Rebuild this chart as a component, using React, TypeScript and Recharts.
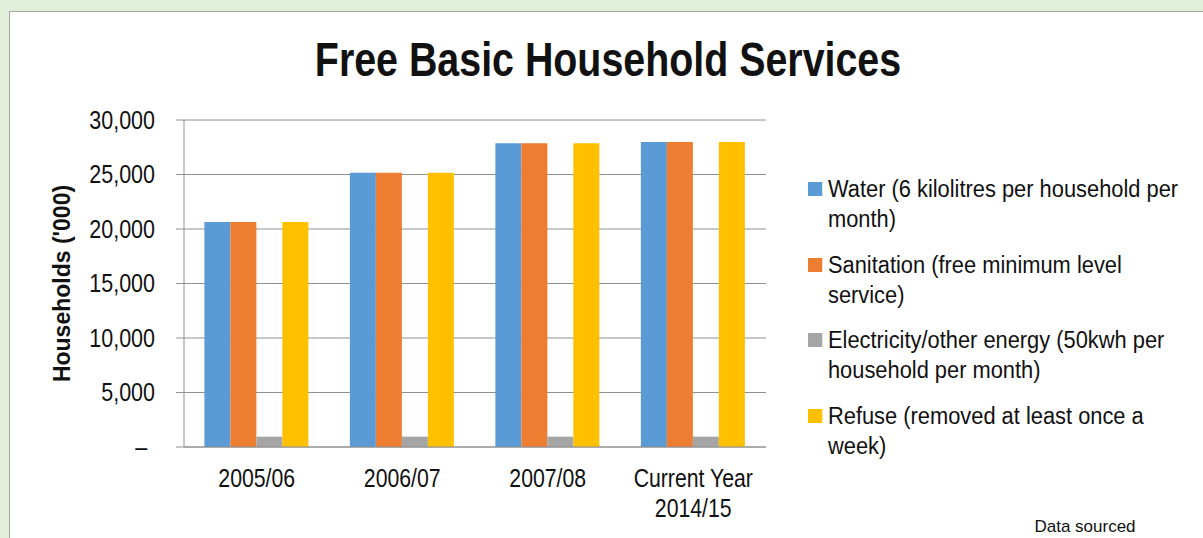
import React from 'react';
import { BarChart, Bar, XAxis, YAxis, CartesianGrid, Legend, Label } from 'recharts';

const categories = ['2005/06', '2006/07', '2007/08', 'Current Year\n2014/15'];
const water = [20650, 25170, 27860, 27990];
const sanitation = [20650, 25170, 27860, 27990];
const electricity = [950, 950, 950, 950];
const refuse = [20650, 25170, 27860, 27990];
const yTicks = [0, 5000, 10000, 15000, 20000, 25000, 30000];

const seriesKeys = ['water', 'sanitation', 'electricity', 'refuse'];
const seriesNames: Record<string, string> = {
  water: 'Water (6 kilolitres per household per\nmonth)',
  sanitation: 'Sanitation (free minimum level\nservice)',
  electricity: 'Electricity/other energy (50kwh per\nhousehold per month)',
  refuse: 'Refuse (removed at least once a\nweek)',
};
const seriesColors: Record<string, string> = {
  water: '#5b9bd5',
  sanitation: '#ed7d31',
  electricity: '#a5a5a5',
  refuse: '#ffc000',
};

const data = categories.map((name, i) => ({
  name,
  water: water[i],
  sanitation: sanitation[i],
  electricity: electricity[i],
  refuse: refuse[i],
}));

const FONT = "'Liberation Sans', Arial, sans-serif";
const GRID = '#909090';

const XTick = ({ x, y, payload }: any) => {
  const lines = String(payload.value).split('\n');
  return (
    <g transform={`translate(${x},${y}) scale(0.85,1)`}>
      <text x={0} y={0} textAnchor="middle" fill="#111" fontSize={25} fontFamily={FONT}>
        {lines.map((l, i) => (
          <tspan key={i} x={0} dy={i === 0 ? 32 : 30}>{l}</tspan>
        ))}
      </text>
    </g>
  );
};

// accounting-style labels: zero shows as a dash, padded in from the right
const YTick = ({ x, y, payload }: any) => {
  const v = payload.value as number;
  return (
    <g transform={`translate(${x},${y}) scale(0.86,1)`}>
      <text x={v === 0 ? -9 : 0} y={0} dy="0.355em" textAnchor="end" fill="#111" fontSize={25} fontFamily={FONT}>
        {v === 0 ? '–' : v.toLocaleString('en-US')}
      </text>
    </g>
  );
};

const LegendList = ({ payload }: any) => {
  const items = [...(payload || [])].sort(
    (a: any, b: any) => seriesKeys.indexOf(a.dataKey) - seriesKeys.indexOf(b.dataKey)
  );
  return (
    <div style={{ fontFamily: FONT, fontSize: 23, color: '#111', lineHeight: '30px', transform: 'scaleX(0.95)', transformOrigin: '0 0' }}>
      {items.map((p: any) => (
        <div key={p.value} style={{ display: 'flex', alignItems: 'flex-start', marginBottom: 15.5 }}>
          <span style={{ width: 15, height: 14, background: p.color, marginTop: 8, marginRight: 6, flex: 'none' }} />
          <span style={{ whiteSpace: 'pre-line' }}>{p.value}</span>
        </div>
      ))}
    </div>
  );
};

export default function App() {
  return (
    <div style={{ position: 'absolute', left: 0, top: 0, width: 1203, height: 538, background: '#e2efda', overflow: 'hidden' }}>
      <div style={{ position: 'absolute', left: 9, top: 11, width: 1210, height: 540, background: '#fff', border: '1px solid #a6a6a6' }} />
      <div
        style={{
          position: 'absolute', left: 0, top: 32, width: 1216, textAlign: 'center',
          fontFamily: FONT, fontWeight: 'bold', fontSize: 48, color: '#111',
          transform: 'scaleX(0.82)', transformOrigin: '608px 0',
        }}
      >
        Free Basic Household Services
      </div>
      <div style={{ position: 'absolute', left: 0, top: 0 }}>
        <BarChart
          width={1203}
          height={538}
          data={data}
          margin={{ top: 120, right: 437, bottom: 61, left: 0 }}
          barCategoryGap="14%"
          barGap={0}
        >
          <CartesianGrid vertical={false} stroke={GRID} />
          <XAxis dataKey="name" height={30} axisLine={{ stroke: GRID }} tickLine={false} tick={<XTick />} interval={0} />
          <YAxis
            width={184}
            domain={[0, 30000]}
            ticks={yTicks}
            interval={0}
            axisLine={{ stroke: GRID }}
            tickLine={{ stroke: GRID }}
            tickSize={8}
            tickMargin={21}
            tick={<YTick />}
          >
            <Label
              content={({ viewBox }: any) => {
                const cy = viewBox.y + viewBox.height / 2;
                return (
                  <text x={62} y={cy} transform={`rotate(-90 62 ${cy})`} textAnchor="middle" dominantBaseline="central"
                    fontFamily={FONT} fontWeight="bold" fontSize={23} fill="#111">
                    Households ('000)
                  </text>
                );
              }}
            />
          </YAxis>
          <Legend
            layout="vertical"
            align="center"
            verticalAlign="middle"
            content={<LegendList />}
            wrapperStyle={{ left: 808, top: 174, width: 395 }}
          />
          {seriesKeys.map((k) => (
            <Bar key={k} dataKey={k} name={seriesNames[k]} fill={seriesColors[k]} isAnimationActive={false} />
          ))}
        </BarChart>
      </div>
      <div style={{ position: 'absolute', left: 1085, top: 517, transform: 'translateX(-50%)', fontFamily: FONT, fontSize: 17, color: '#111', whiteSpace: 'nowrap' }}>
        Data sourced
      </div>
    </div>
  );
}
